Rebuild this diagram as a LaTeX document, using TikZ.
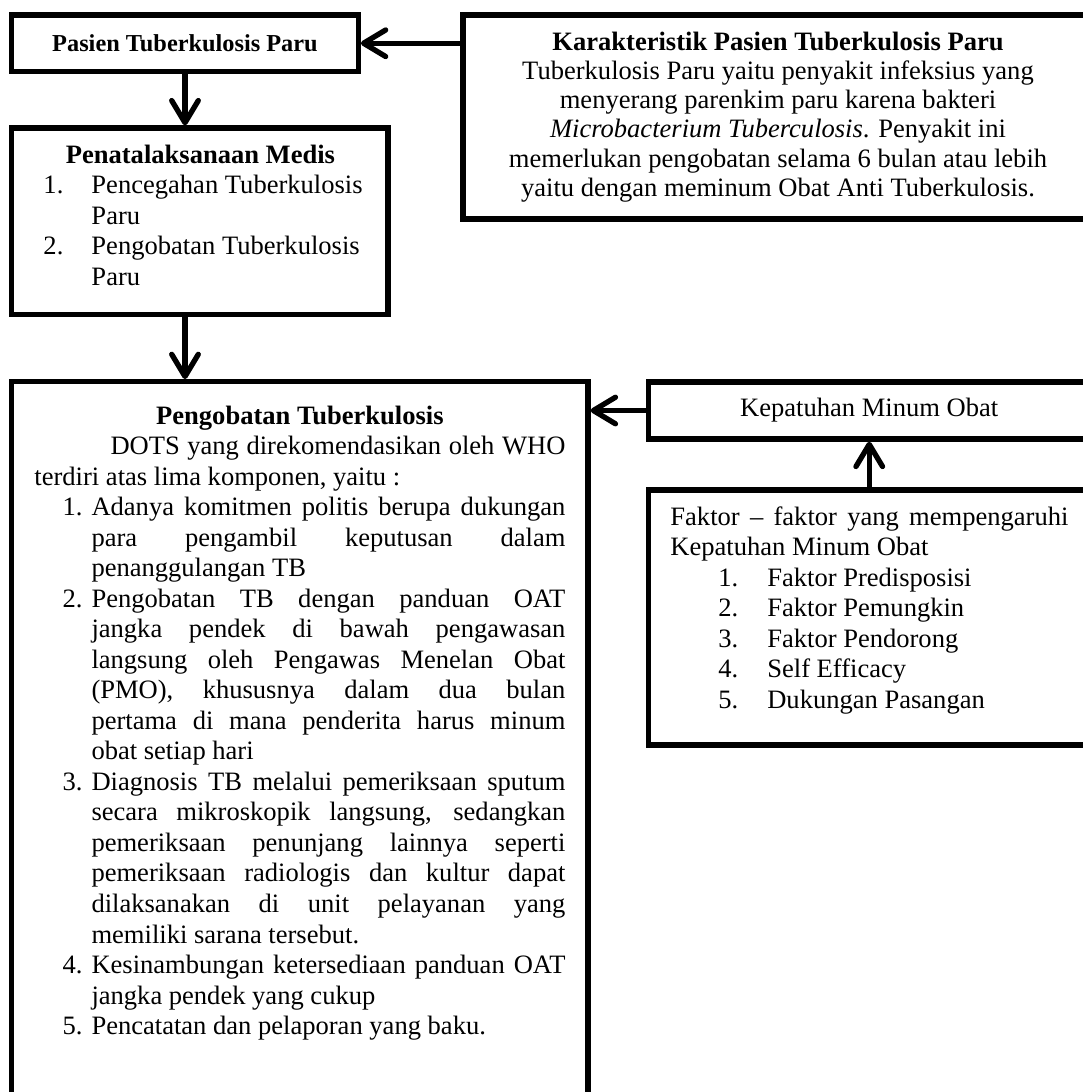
\documentclass[tikz,border=0pt]{standalone}
\usepackage{fontspec}
\setmainfont{Liberation Serif}
\usetikzlibrary{arrows.meta}
\newcommand{\numpar}[4]{{\leftskip=#1\hangindent=#2\hangafter=1\noindent\makebox[#2][l]{#3}#4\par}}
\tikzset{
  box/.style  = {rectangle, draw=black, line width=2.4pt, inner sep=0pt,
                 font=\fontsize{12}{13.8}\selectfont},
  body/.style = {font=\fontsize{12}{13.8}\selectfont, inner sep=0pt,
                 align=justify},
  arr/.style  = {-{Straight Barb[length=10pt,width=12pt,round]}, line width=2.4pt},
}
\hbadness=10000

\begin{document}
\begin{tikzpicture}[x=0.452pt,y=-0.452pt]
  \useasboundingbox (0,0) rectangle (1083,1092);
  \clip (0,0) rectangle (1083,1092);

  \node[box, minimum width=156.6pt, minimum height=25.5pt,
        font=\fontsize{11}{12.6}\selectfont\bfseries]
    (pasien) at (185,43.25) {Pasien Tuberkulosis Paru};
  \node[box, minimum width=284.8pt, minimum height=92.2pt, align=center,
        font=\fontsize{12}{13.2}\selectfont]
    (karakter) at (778,117) {\textbf{Karakteristik Pasien Tuberkulosis Paru}\\
      Tuberkulosis Paru yaitu penyakit infeksius yang\\
      menyerang parenkim paru karena bakteri\\
      \textit{Microbacterium Tuberculosis}. Penyakit ini\\
      memerlukan pengobatan selama 6 bulan atau lebih\\
      yaitu dengan meminum Obat Anti Tuberkulosis.};
  \node[box, minimum width=170.2pt, minimum height=84.3pt] (medis) at (199.75,221.25) {};
  \node[box, minimum width=260.5pt, minimum height=338.2pt] (obatTB) at (299.85,755.85) {};
  \node[box, minimum width=199.6pt, minimum height=25.8pt] (patuh) at (869.25,410.5)
    {Kepatuhan Minum Obat};
  \node[box, minimum width=199.6pt, minimum height=115.3pt] (faktor) at (869.25,617.5) {};

  \node[body, anchor=base west, text width=155.5pt] (medisTxt) at (28,163) {%
    {\centering\bfseries Penatalaksanaan Medis\par}
    \numpar{6.8pt}{21.7pt}{1.}{Pencegahan Tuberkulosis\newline Paru}
    \numpar{6.8pt}{21.7pt}{2.}{Pengobatan Tuberkulosis\newline Paru}};

  \node[body, anchor=base west, text width=240pt] (obatTxt) at (34,424) {%
    {\centering\bfseries Pengobatan Tuberkulosis\par}
    \hspace*{34.4pt}DOTS yang direkomendasikan oleh WHO\linebreak
    terdiri atas lima komponen, yaitu :\par
    \numpar{12.7pt}{13.1pt}{1.}{Adanya komitmen politis berupa dukungan\linebreak
      para pengambil keputusan dalam\linebreak penanggulangan TB}
    \numpar{12.7pt}{13.1pt}{2.}{Pengobatan TB dengan panduan OAT\linebreak
      jangka pendek di bawah pengawasan\linebreak
      langsung oleh Pengawas Menelan Obat\linebreak
      (PMO), khususnya dalam dua bulan\linebreak
      pertama di mana penderita harus minum\linebreak obat setiap hari}
    \numpar{12.7pt}{13.1pt}{3.}{Diagnosis TB melalui pemeriksaan sputum\linebreak
      secara mikroskopik langsung, sedangkan\linebreak
      pemeriksaan penunjang lainnya seperti\linebreak
      pemeriksaan radiologis dan kultur dapat\linebreak
      dilaksanakan di unit pelayanan yang\linebreak memiliki sarana tersebut.}
    \numpar{12.7pt}{13.1pt}{4.}{Kesinambungan ketersediaan panduan OAT\linebreak
      jangka pendek yang cukup}
    \numpar{12.7pt}{13.1pt}{5.}{Pencatatan dan pelaporan yang baku.}};

  \node[body, anchor=base west, text width=179.9pt] (faktorTxt) at (670,525) {%
    Faktor -- faktor yang mempengaruhi\linebreak Kepatuhan Minum Obat\par
    \numpar{21.7pt}{22.1pt}{1.}{Faktor Predisposisi}
    \numpar{21.7pt}{22.1pt}{2.}{Faktor Pemungkin}
    \numpar{21.7pt}{22.1pt}{3.}{Faktor Pendorong}
    \numpar{21.7pt}{22.1pt}{4.}{Self Efficacy}
    \numpar{21.7pt}{22.1pt}{5.}{Dukungan Pasangan}};

  \draw[arr] (karakter.west |- pasien.east) -- (pasien.east);
  \draw[arr] (pasien.south) -- (pasien.south |- medis.north);
  \draw[arr] (medis.south -| pasien.south) -- (obatTB.north -| pasien.south);
  \draw[arr] (patuh.west) -- (patuh.west -| obatTB.east);
  \draw[arr] (faktor.north -| patuh.south) -- (patuh.south);
\end{tikzpicture}
\end{document}
